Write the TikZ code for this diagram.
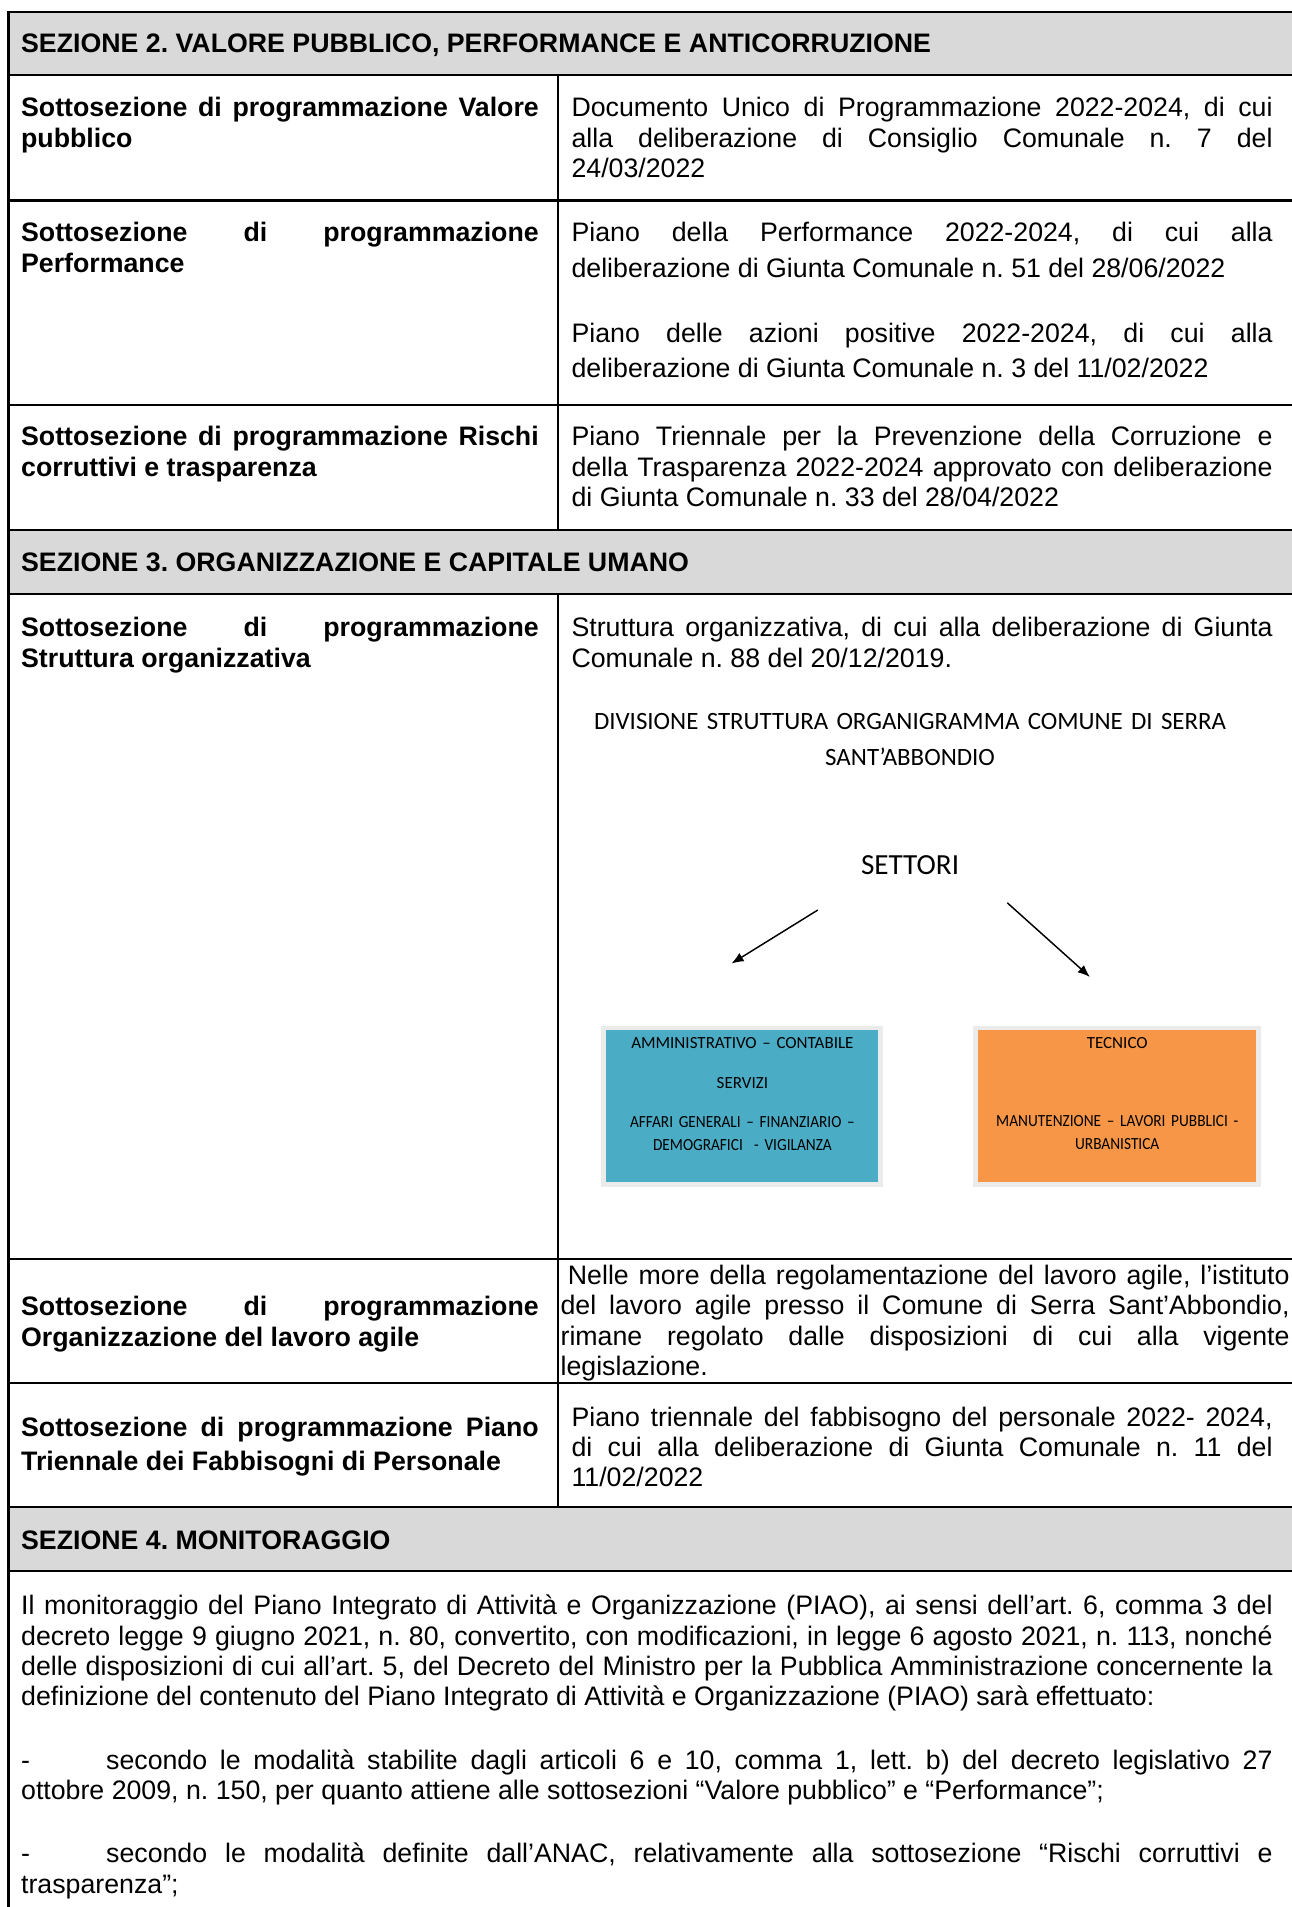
\documentclass[tikz,border=0pt]{standalone}
\usepackage{fontspec}
\setmainfont{Liberation Sans}
\newfontfamily\calibri{Carlito}
\newfontfamily\calibristretta[FakeStretch=0.9]{Carlito}
\usetikzlibrary{arrows.meta}
\definecolor{sezgray}{HTML}{D9D9D9}
\definecolor{ammblu}{HTML}{4BACC6}
\definecolor{tecarancio}{HTML}{F79646}
\tolerance=10000 \hbadness=10000 \hyphenpenalty=10000
\frenchspacing
\begin{document}
\begin{tikzpicture}[x=0.5pt,y=-0.5pt,
  cell/.style={anchor=base west,inner sep=0pt,align=justify,font=\fontsize{11}{12.5}\selectfont},
  lcell/.style={cell,text width=213pt,font=\bfseries\fontsize{11}{12.5}\selectfont},
  rcell/.style={cell,text width=288.5pt},
  head/.style={anchor=base west,inner sep=0pt,font=\bfseries\fontsize{11}{12.5}\selectfont},
  griglia/.style={line width=0.9pt},
  settbox/.style={inner sep=0pt,minimum height=64.5pt,draw=black!8,line width=2pt},
  orgtxt/.style={anchor=base,inner sep=0pt,align=center,font=\calibri\fontsize{7}{9.5}\selectfont},
  freccia/.style={line width=0.6pt,-{Latex[length=5pt,width=4pt]}}]
\useasboundingbox (0,0) rectangle (1063,1569.5);
\fill[sezgray] (7,10) rectangle (1063,62);
\fill[sezgray] (7,436) rectangle (1063,489);
\fill[sezgray] (7,1240) rectangle (1063,1293);
\draw[griglia] (7,1569.5) -- (7,10) -- (1063,10);
\foreach \y in {62,165,333,436,489,1036,1138,1240,1293} \draw[griglia] (7,\y) -- (1063,\y);
\draw[griglia] (459,62) -- (459,436) (459,489) -- (459,1240);
\node[head] (sez2) at (17,43) {SEZIONE 2. VALORE PUBBLICO, PERFORMANCE E ANTICORRUZIONE};
\node[lcell] (vall) at (17,96) {Sottosezione di programmazione Valore\linebreak pubblico};
\node[rcell] (valr) at (470,96) {Documento Unico di Programmazione 2022-2024, di cui\linebreak alla deliberazione di Consiglio Comunale n. 7 del\linebreak 24/03/2022};
\node[lcell] (perfl) at (17,199) {Sottosezione di programmazione\linebreak Performance};
\node[rcell,font=\fontsize{11}{14.5}\selectfont] (perfr) at (470,199) {Piano della Performance 2022-2024, di cui alla\linebreak deliberazione di Giunta Comunale n. 51 del 28/06/2022};
\node[rcell,font=\fontsize{11}{14.5}\selectfont] (azr) at (470,282) {Piano delle azioni positive 2022-2024, di cui alla\linebreak deliberazione di Giunta Comunale n. 3 del 11/02/2022};
\node[lcell] (riscl) at (17,367) {Sottosezione di programmazione Rischi\linebreak corruttivi e trasparenza};
\node[rcell] (riscr) at (470,367) {Piano Triennale per la Prevenzione della Corruzione e\linebreak della Trasparenza 2022-2024 approvato con deliberazione\linebreak di Giunta Comunale n. 33 del 28/04/2022};
\node[head] (sez3) at (17,470) {SEZIONE 3. ORGANIZZAZIONE E CAPITALE UMANO};
\node[lcell] (strl) at (17,524) {Sottosezione di programmazione\linebreak Struttura organizzativa};
\node[rcell] (strr) at (470,524) {Struttura organizzativa, di cui alla deliberazione di Giunta\linebreak Comunale n. 88 del 20/12/2019.};
\node[anchor=base,inner sep=0pt,text width=300pt,align=center,font=\calibri\fontsize{10.25}{15}\selectfont] (tit) at (749,600) {DIVISIONE STRUTTURA ORGANIGRAMMA COMUNE DI SERRA\\SANT’ABBONDIO};
\node[anchor=base,inner sep=0pt,font=\calibri\fontsize{12}{14}\selectfont] (sett) at (749,720) {SETTORI};
\coordinate (setts) at (673,749); \coordinate (ammfr) at (602,793);
\coordinate (settd) at (829,743); \coordinate (tecfr) at (897,804);
\draw[freccia] (setts) -- (ammfr);
\draw[freccia] (settd) -- (tecfr);
\node[settbox,fill=ammblu,minimum width=114pt] (amm) at (611,910.5) {};
\node[settbox,fill=tecarancio,minimum width=116.5pt] (tec) at (919.5,910.5) {};
\node[orgtxt,text width=114pt] (ammtxt) at (611,863) {AMMINISTRATIVO – CONTABILE\\[7pt]SERVIZI\\[6.5pt]{\calibristretta AFFARI GENERALI – FINANZIARIO –}\\{\calibristretta DEMOGRAFICI\ \ - VIGILANZA}};
\node[orgtxt,text width=116.5pt] (tectxt) at (919.5,863) {TECNICO\\[22.5pt]{\calibristretta MANUTENZIONE – LAVORI PUBBLICI -}\\{\calibristretta URBANISTICA}};
\node[lcell] (agl) at (17,1083) {Sottosezione di programmazione\linebreak Organizzazione del lavoro agile};
\node[rcell,text width=300pt] (agr) at (461,1057) {\hspace*{3pt}Nelle more della regolamentazione del lavoro agile, l’istituto\linebreak del lavoro agile presso il Comune di Serra Sant’Abbondio,\linebreak rimane regolato dalle disposizioni di cui alla vigente\linebreak legislazione.};
\node[lcell,font=\bfseries\fontsize{11}{14}\selectfont] (fabl) at (17,1182) {Sottosezione di programmazione Piano\linebreak Triennale dei Fabbisogni di Personale};
\node[rcell,font=\fontsize{11}{12.25}\selectfont] (fabr) at (470,1174) {Piano triennale del fabbisogno del personale 2022- 2024,\linebreak di cui alla deliberazione di Giunta Comunale n. 11 del\linebreak 11/02/2022};
\node[head] (sez4) at (17,1275) {SEZIONE 4. MONITORAGGIO};
\node[cell,text width=515pt] (mon) at (17,1329) {Il monitoraggio del Piano Integrato di Attività e Organizzazione (PIAO), ai sensi dell’art. 6, comma 3 del\linebreak decreto legge 9 giugno 2021, n. 80, convertito, con modificazioni, in legge 6 agosto 2021, n. 113, nonché\linebreak delle disposizioni di cui all’art. 5, del Decreto del Ministro per la Pubblica Amministrazione concernente la\linebreak definizione del contenuto del Piano Integrato di Attività e Organizzazione (PIAO) sarà effettuato:};
\node[cell,text width=515pt] (monperf) at (17,1456) {\makebox[35pt][l]{-}secondo le modalità stabilite dagli articoli 6 e 10, comma 1, lett. b) del decreto legislativo 27\linebreak ottobre 2009, n. 150, per quanto attiene alle sottosezioni “Valore pubblico” e “Performance”;};
\node[cell,text width=515pt] (monanac) at (17,1533) {\makebox[35pt][l]{-}secondo le modalità definite dall’ANAC, relativamente alla sottosezione “Rischi corruttivi e\linebreak trasparenza”;};
\end{tikzpicture}
\end{document}
